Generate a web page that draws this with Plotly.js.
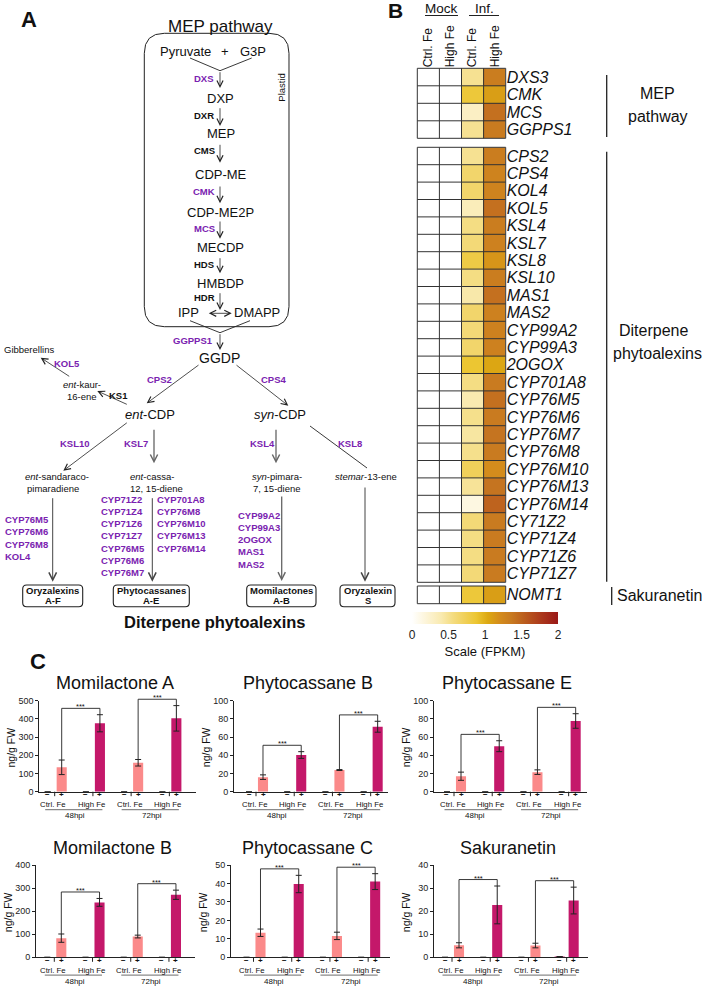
<!DOCTYPE html>
<html><head><meta charset="utf-8">
<script src="https://cdn.plot.ly/plotly-3.0.1.min.js"></script>
<style>html,body{margin:0;padding:0;background:#fff;}#chart{width:702px;height:992px;}</style>
</head><body><div id="chart"></div>
<script>
// ================= DATA =================
// Panel B heatmap (FPKM scale)
const mepGenes = ['DXS3','CMK','MCS','GGPPS1'];
const diterpeneGenes = ['CPS2','CPS4','KOL4','KOL5','KSL4','KSL7','KSL8','KSL10','MAS1','MAS2','CYP99A2','CYP99A3','2OGOX','CYP701A8','CYP76M5','CYP76M6','CYP76M7','CYP76M8','CYP76M10','CYP76M13','CYP76M14','CY71Z2','CYP71Z4','CYP71Z6','CYP71Z7'];
const sakuranetinGenes = ['NOMT1'];
const heatColumns = ['Ctrl. Fe','High Fe','Ctrl. Fe','High Fe'];
const mepMockCtrl = [0,0,0,0];
const mepMockHigh = [0,0,0,0];
const mepInfCtrl  = [0.5,0.85,0.3,0.5];
const mepInfHigh  = [1.33,1.1,1.42,1.35];
const dtMockCtrl = [0,0,0,0,0,0,0,0,0,0,0,0,0,0,0,0,0,0,0,0,0,0,0,0,0];
const dtMockHigh = [0,0,0,0,0,0,0,0,0,0,0,0,0,0,0,0,0,0,0,0,0,0,0,0,0];
const dtInfCtrl  = [0.5,0.65,0.65,0.35,0.55,0.6,0.8,0.55,0.42,0.65,0.6,0.65,0.88,0.55,0.4,0.52,0.45,0.52,0.72,0.48,0.15,0.6,0.55,0.55,0.6];
const dtInfHigh  = [1.33,1.28,1.28,1.42,1.33,1.3,1.15,1.33,1.42,1.3,1.3,1.3,1.05,1.35,1.42,1.35,1.4,1.35,1.2,1.4,1.5,1.35,1.35,1.35,1.35];
const skMockCtrl = [0];
const skMockHigh = [0];
const skInfCtrl  = [0.85];
const skInfHigh  = [1.1];
const scaleTicks = [0,0.5,1,1.5,2];

// Panel C bar charts (ng/g FW)
const compounds = ['Momilactone A','Phytocassane B','Phytocassane E','Momilactone B','Phytocassane C','Sakuranetin'];
const yMax  = [500,100,100,400,50,40];
const yStep = [100,20,20,100,10,10];
const mockCtrl48 = [0,0,0,0,0,0];
const ctrl48     = [134,16,17,83,13.3,5.2];
const ctrl48Err  = [40,2.5,4.5,18,2,1.1];
const mockHigh48 = [0,0,0,0,0,0];
const high48     = [376,40.3,50,238,39.7,22.7];
const high48Err  = [47,3.7,6,17,4.7,8.2];
const mockCtrl72 = [0,0,0,0,0,0];
const ctrl72     = [159,23.8,21.5,90,11.6,5.1];
const ctrl72Err  = [18,0.5,2.5,6,2,1];
const mockHigh72 = [0,0,0,0,0,0.3];
const high72     = [403,71.4,77.7,271,41,24.6];
const high72Err  = [70,6,8,20,4.3,5.8];
const groupLabels = ['Ctrl. Fe','High Fe','Ctrl. Fe','High Fe'];
const timeLabels = ['48hpi','72hpi'];

// Panel A pathway gene lists
const oryzalexinGenes = ['CYP76M5','CYP76M6','CYP76M8','KOL4'];
const phytocassaneGenesA = ['CYP71Z2','CYP71Z4','CYP71Z6','CYP71Z7','CYP76M5','CYP76M6','CYP76M7'];
const phytocassaneGenesB = ['CYP701A8','CYP76M8','CYP76M10','CYP76M13','CYP76M14'];
const momilactoneGenes = ['CYP99A2','CYP99A3','2OGOX','MAS1','MAS2'];

// ================= HELPERS =================
const W = 702, H = 992;
const X = p => p / W, Y = p => 1 - p / H;
const FONT = 'Liberation Sans, Arial, Helvetica, sans-serif';
const PURPLE = '#7a22b0';
const ann = [], shp = [], traces = [];
function T(x, y, text, size, o) {
  o = o || {};
  ann.push(Object.assign({xref:'paper', yref:'paper', x:X(x), y:Y(y), text:text, showarrow:false,
    xanchor:'center', yanchor:'middle', borderpad:0,
    font:{family:FONT, size:size, color:o.color || '#111'}}, o.ext || {}));
}
function ARROW(tx, ty, hx, hy, o) {
  o = o || {};
  ann.push({xref:'paper', yref:'paper', x:X(hx), y:Y(hy), ax:tx - hx, ay:ty - hy, axref:'pixel', ayref:'pixel',
    text:'', showarrow:true, arrowhead:5, startarrowhead:5, arrowside:o.both ? 'end+start' : 'end',
    arrowsize:o.size || 1.5, startarrowsize:o.size || 1.5, arrowwidth:o.w || 0.8, arrowcolor:o.color || '#222', standoff:0, startstandoff:0});
}
function LINE(x0, y0, x1, y1, color, width) {
  shp.push({type:'line', xref:'paper', yref:'paper', x0:X(x0), y0:Y(y0), x1:X(x1), y1:Y(y1), line:{color:color || '#222', width:width || 1}});
}
function RRECT(x0, y0, x1, y1, r, color, width) {
  const P = (x, y) => X(x).toFixed(5) + ',' + Y(y).toFixed(5);
  const d = 'M' + P(x0 + r, y0) + ' L' + P(x1 - r, y0) + ' Q' + P(x1, y0) + ' ' + P(x1, y0 + r) +
    ' L' + P(x1, y1 - r) + ' Q' + P(x1, y1) + ' ' + P(x1 - r, y1) + ' L' + P(x0 + r, y1) +
    ' Q' + P(x0, y1) + ' ' + P(x0, y1 - r) + ' L' + P(x0, y0 + r) + ' Q' + P(x0, y0) + ' ' + P(x0 + r, y0) + ' Z';
  shp.push({type:'path', xref:'paper', yref:'paper', path:d, line:{color:color || '#222', width:width || 1}, fillcolor:'rgba(0,0,0,0)'});
}

// ================= PANEL A =================
T(29, 20, '<b>A</b>', 22);
T(220.7, 26, 'MEP pathway', 17);
RRECT(144.3, 33.3, 289, 326.7, 20, '#222', 1);
T(185, 51.7, 'Pyruvate', 13); T(225, 51.7, '+', 13); T(253, 51.7, 'G3P', 13);
LINE(190, 58, 220, 70.7, '#222', 0.9); LINE(251.7, 58, 220, 70.7, '#222', 0.9);
T(281.7, 87, 'Plastid', 9.5, {ext:{textangle:-90}});
const mainChain = [
  ['DXP', 98.3, 'DXS', true, 70.7, 88, 79],
  ['MEP', 133.3, 'DXR', false, 106.7, 126, 115],
  ['CDP-ME', 175, 'CMS', false, 143.3, 162.7, 150],
  ['CDP-ME2P', 212, 'CMK', true, 185, 203.3, 191.3],
  ['MECDP', 247.3, 'MCS', true, 220, 238.7, 228],
  ['HMBDP', 283.3, 'HDS', false, 256.7, 273.3, 265]
];
mainChain.forEach(m => {
  T(220.7, m[1], m[0], 13);
  ARROW(220, m[4], 220, m[5]);
  T(204, m[6], '<b>' + m[2] + '</b>', 9.5, {color: m[3] ? PURPLE : '#111'});
});
ARROW(220, 291.7, 220, 310); T(204, 297.3, '<b>HDR</b>', 9.5);
T(188.3, 312.7, 'IPP', 13); T(256.7, 312.7, 'DMAPP', 13);
ARROW(207.3, 313.3, 231.7, 313.3, {both:true});
LINE(190, 320.7, 220, 332.7, '#222', 0.9); LINE(250, 320.7, 220, 332.7, '#222', 0.9);
ARROW(220, 332.7, 220, 350);
T(193.3, 340, '<b>GGPPS1</b>', 9.5, {color:PURPLE});
T(220, 357.7, 'GGDP', 14);
T(29.3, 350, 'Gibberellins', 9.5);
ARROW(70.7, 377.3, 40.7, 357.7);
T(66.7, 363.7, '<b>KOL5</b>', 9.5, {color:PURPLE});
T(81.7, 384.7, '<i>ent</i>-kaur-', 9.5); T(81.7, 396.7, '16-ene', 9.5);
ARROW(128.3, 405, 97.3, 391);
T(118.3, 395, '<b>KS1</b>', 9.5);
ARROW(200, 364, 146.7, 403.3); T(159.3, 379.3, '<b>CPS2</b>', 9.5, {color:PURPLE});
ARROW(235, 364, 288.3, 405.7); T(274, 379.3, '<b>CPS4</b>', 9.5, {color:PURPLE});
T(150, 414, '<i>ent</i>-CDP', 13); T(280, 414, '<i>syn</i>-CDP', 13);
ARROW(128.3, 421.7, 63.3, 470.7); T(75, 444, '<b>KSL10</b>', 9.5, {color:PURPLE});
ARROW(154, 428.3, 154, 463.3, {color:'#666', w:1.3, size:1.1}); T(136, 444, '<b>KSL7</b>', 9.5, {color:PURPLE});
ARROW(276, 428.3, 276, 463.3, {color:'#666', w:1.3, size:1.1}); T(262.7, 444, '<b>KSL4</b>', 9.5, {color:PURPLE});
LINE(310, 426, 367, 468, '#222', 0.9); T(350, 444, '<b>KSL8</b>', 9.5, {color:PURPLE});
T(57.3, 476.7, '<i>ent</i>-sandaraco-', 9.5); T(53.3, 488.3, 'pimaradiene', 9.5);
T(151.7, 476.7, '<i>ent</i>-cassa-', 9.5); T(156.7, 488.3, '12, 15-diene', 9.5);
T(276.7, 476.7, '<i>syn</i>-pimara-', 9.5); T(277.3, 488.3, '7, 15-diene', 9.5);
T(366, 476.7, '<i>stemar</i>-13-ene', 9.5);
ARROW(52.7, 496.7, 52.7, 581.7, {color:'#444', w:1});
ARROW(152.3, 496.7, 152.3, 581.7, {color:'#444', w:1});
ARROW(281.7, 495, 281.7, 581, {color:'#666', w:1.3, size:1.1});
ARROW(365, 486, 365, 581.7, {color:'#444', w:1});
function geneList(list, x, y0, step) {
  list.forEach((g, i) => T(x, y0 + i * step, '<b>' + g + '</b>', 9.5, {color:PURPLE, ext:{xanchor:'left'}}));
}
geneList(oryzalexinGenes, 4, 519.3, 12.5);
geneList(phytocassaneGenesA, 100, 499.3, 12.2);
geneList(phytocassaneGenesB, 155.7, 499.3, 12.2);
geneList(momilactoneGenes, 236.7, 515, 12.3);
const products = [
  ['Oryzalexins', 'A-F', 22.7, 82.7],
  ['Phytocassanes', 'A-E', 113.3, 189.3],
  ['Momilactones', 'A-B', 246.7, 316],
  ['Oryzalexin', 'S', 340, 395]
];
products.forEach(p => {
  RRECT(p[2], 585, p[3], 606.7, 4, '#222', 1.1);
  const cx = (p[2] + p[3]) / 2;
  T(cx, 590.7, '<b>' + p[0] + '</b>', 9.5); T(cx, 600.9, '<b>' + p[1] + '</b>', 9.5);
});
T(214.7, 621.7, '<b>Diterpene phytoalexins</b>', 16.5);

// ================= PANEL B =================
T(395, 10, '<b>B</b>', 21);
T(441.7, 8.5, 'Mock', 13.5); LINE(425, 15.5, 458, 15.5, '#222', 1);
T(484, 8.5, 'Inf.', 13.5); LINE(469, 15.5, 499, 15.5, '#222', 1);
const HEAT = [[0,'#ffffff'],[0.08,'#fdf6df'],[0.2,'#f9eab0'],[0.28,'#f4dc80'],[0.36,'#f0d05a'],[0.44,'#ecc632'],
  [0.52,'#dca812'],[0.6,'#d48c1c'],[0.68,'#c87a20'],[0.76,'#bc601e'],[0.88,'#ac3a1c'],[1,'#9a1818']];
const gridL = 417.3, gridR = 505.7;
const blocks = [
  {genes:mepGenes, mc:mepMockCtrl, mh:mepMockHigh, ic:mepInfCtrl, ih:mepInfHigh, top:68.3, bot:138.3, ax:'y', key:'yaxis'},
  {genes:diterpeneGenes, mc:dtMockCtrl, mh:dtMockHigh, ic:dtInfCtrl, ih:dtInfHigh, top:147.3, bot:582.3, ax:'y2', key:'yaxis2'},
  {genes:sakuranetinGenes, mc:skMockCtrl, mh:skMockHigh, ic:skInfCtrl, ih:skInfHigh, top:586, bot:603.7, ax:'y3', key:'yaxis3'}
];
const layout = {
  width:W, height:H, margin:{l:0, r:0, t:0, b:0}, autosize:false, showlegend:false,
  paper_bgcolor:'#fff', plot_bgcolor:'#fff', font:{family:FONT, color:'#111'},
  xaxis:{domain:[X(gridL), X(gridR)], range:[-0.5, 3.5], anchor:'y', side:'top', tickvals:[0,1,2,3], ticktext:heatColumns,
    tickangle:-90, ticks:'', showgrid:false, zeroline:false, showline:false, tickfont:{family:FONT, size:12, color:'#111'}}
};
blocks.forEach((b, bi) => {
  const z = b.genes.map((g, i) => [b.mc[i], b.mh[i], b.ic[i], b.ih[i]]);
  const tr = {type:'heatmap', x:[0,1,2,3], y:b.genes, z:z, xaxis:'x', yaxis:b.ax, colorscale:HEAT, zmin:0, zmax:2,
    showscale:bi === 0, hoverinfo:'skip'};
  if (bi === 0) {
    tr.colorbar = {orientation:'h', x:X(485), xanchor:'center', y:Y(612), yanchor:'top', len:146, lenmode:'pixels',
      thickness:12, thicknessmode:'pixels', xpad:0, ypad:0, outlinewidth:0, tickvals:scaleTicks,
      ticktext:scaleTicks.map(String), ticks:'', tickfont:{family:FONT, size:12, color:'#222'},
      title:{text:'Scale (FPKM)', side:'bottom', font:{family:FONT, size:13, color:'#111'}}};
  }
  traces.push(tr);
  layout[b.key] = {domain:[Y(b.bot), Y(b.top)], anchor:'x', side:'right', type:'category', autorange:'reversed',
    tickmode:'array', tickvals:b.genes, ticktext:b.genes,
    ticks:'', ticklen:0, showgrid:false, zeroline:false, showline:false,
    tickfont:{family:FONT, size:16, color:'#111', style:'italic'}};
  const n = b.genes.length, rh = (b.bot - b.top) / n, cw = (gridR - gridL) / 4;
  for (let i = 0; i <= n; i++) LINE(gridL, b.top + i * rh, gridR, b.top + i * rh, '#333', 1);
  for (let j = 0; j <= 4; j++) LINE(gridL + j * cw, b.top, gridL + j * cw, b.bot, '#333', 1);
});
LINE(606.7, 75, 606.7, 137, '#222', 1.3);
T(657.7, 93, 'MEP', 16); T(657.7, 117, 'pathway', 16);
LINE(606.7, 151.7, 606.7, 581.7, '#222', 1.3);
T(653, 330, 'Diterpene', 16); T(657, 353, 'phytoalexins', 16);
LINE(611.7, 587, 611.7, 605, '#222', 1.3);
T(616, 595, 'Sakuranetin', 16, {ext:{xanchor:'left'}});

// ================= PANEL C =================
T(38.3, 661.7, '<b>C</b>', 22);
const CTRL_COL = '#fb8a8a', HIGH_COL = '#c4186a';
const UNIT = 14, GROUP = 2.73;
const rowsPx = [{top:700.7, bot:791.7}, {top:865, bot:957.3}];
const chartBox = [
  {ax:39.3, end:196, off:8.4}, {ax:234, end:388, off:15}, {ax:434, end:587, off:13},
  {ax:36, end:195, off:11.3}, {ax:231, end:390, off:15.5}, {ax:434, end:588, off:11}
];
const slot = (g, s) => g * GROUP + s;
compounds.forEach((name, k) => {
  const r = rowsPx[k < 3 ? 0 : 1], b = chartBox[k];
  const xid = 'x' + (k + 2), yid = 'y' + (k + 4);
  const r0 = -b.off / UNIT, r1 = r0 + (b.end - b.ax) / UNIT;
  const px = v => b.ax + (v - r0) * UNIT;
  const py = v => r.bot - v / yMax[k] * (r.bot - r.top);
  layout['xaxis' + (k + 2)] = {domain:[X(b.ax), X(b.end)], range:[r0, r1], anchor:yid, showline:true, linecolor:'#222',
    linewidth:1, ticks:'', showticklabels:false, showgrid:false, zeroline:false};
  layout['yaxis' + (k + 4)] = {domain:[Y(r.bot), Y(r.top)], range:[0, yMax[k]], anchor:xid, showline:true, linecolor:'#222',
    linewidth:1, ticks:'outside', ticklen:3, tickwidth:1, tickcolor:'#222', tick0:0, dtick:yStep[k],
    tickfont:{family:FONT, size:9, color:'#222'}, showgrid:false, zeroline:false};
  const eb = {type:'data', visible:true, color:'#222', thickness:1, width:3};
  traces.push({type:'bar', xaxis:xid, yaxis:yid, x:[slot(0,0), slot(0,1), slot(2,0), slot(2,1)],
    y:[mockCtrl48[k], ctrl48[k], mockCtrl72[k], ctrl72[k]], width:0.72, marker:{color:CTRL_COL}, hoverinfo:'skip',
    error_y:Object.assign({array:[0, ctrl48Err[k], 0, ctrl72Err[k]]}, eb)});
  traces.push({type:'bar', xaxis:xid, yaxis:yid, x:[slot(1,0), slot(1,1), slot(3,0), slot(3,1)],
    y:[mockHigh48[k], high48[k], mockHigh72[k], high72[k]], width:0.72, marker:{color:HIGH_COL}, hoverinfo:'skip',
    error_y:Object.assign({array:[0, high48Err[k], 0, high72Err[k]]}, eb)});
  T((b.ax + b.end) / 2 - 3, r.top - 17.5, name, 18);
  T(b.ax - 28, (r.top + r.bot) / 2 + 1, 'ng/g FW', 10.5, {ext:{textangle:-90}});
  for (let g = 0; g < 4; g++) {
    T(px(slot(g, 0)), r.bot + 3, '<b>−</b>', 8);
    T(px(slot(g, 1)), r.bot + 3, '<b>+</b>', 8);
    const mid = (px(slot(g, 0)) + px(slot(g, 1))) / 2;
    LINE(mid, r.bot, mid, r.bot + 4.5, '#222', 1);
    T(mid - 1.5, r.bot + 12.8, groupLabels[g], 7.8);
  }
  const ctrlV = [ctrl48[k] + ctrl48Err[k], ctrl72[k] + ctrl72Err[k]];
  const highV = [high48[k] + high48Err[k], high72[k] + high72Err[k]];
  for (let h = 0; h < 2; h++) {
    const xa = px(slot(2 * h, 0)), xb = px(slot(2 * h + 1, 1));
    LINE(xa - 2.5, r.bot + 17.9, xb + 2.5, r.bot + 17.9, '#8a8a8a', 1.2);
    T((xa + xb) / 2 + 1.5, r.bot + 24, timeLabels[h], 8);
    const topV = Math.max(ctrlV[h], highV[h]) + 0.07 * yMax[k];
    const xL = px(slot(2 * h, 1)), xR = px(slot(2 * h + 1, 1));
    const P = (x, y) => X(x).toFixed(5) + ',' + Y(y).toFixed(5);
    shp.push({type:'path', xref:'paper', yref:'paper',
      path:'M' + P(xL, py(ctrlV[h])) + ' L' + P(xL, py(topV)) + ' L' + P(xR, py(topV)) + ' L' + P(xR, py(highV[h])),
      line:{color:'#222', width:0.9}, fillcolor:'rgba(0,0,0,0)'});
    T((xL + xR) / 2, py(topV) - 1.5, '***', 7.5);
  }
});
layout.annotations = ann;
layout.shapes = shp;
Plotly.newPlot('chart', traces, layout, {staticPlot:true, displayModeBar:false});
</script></body></html>
